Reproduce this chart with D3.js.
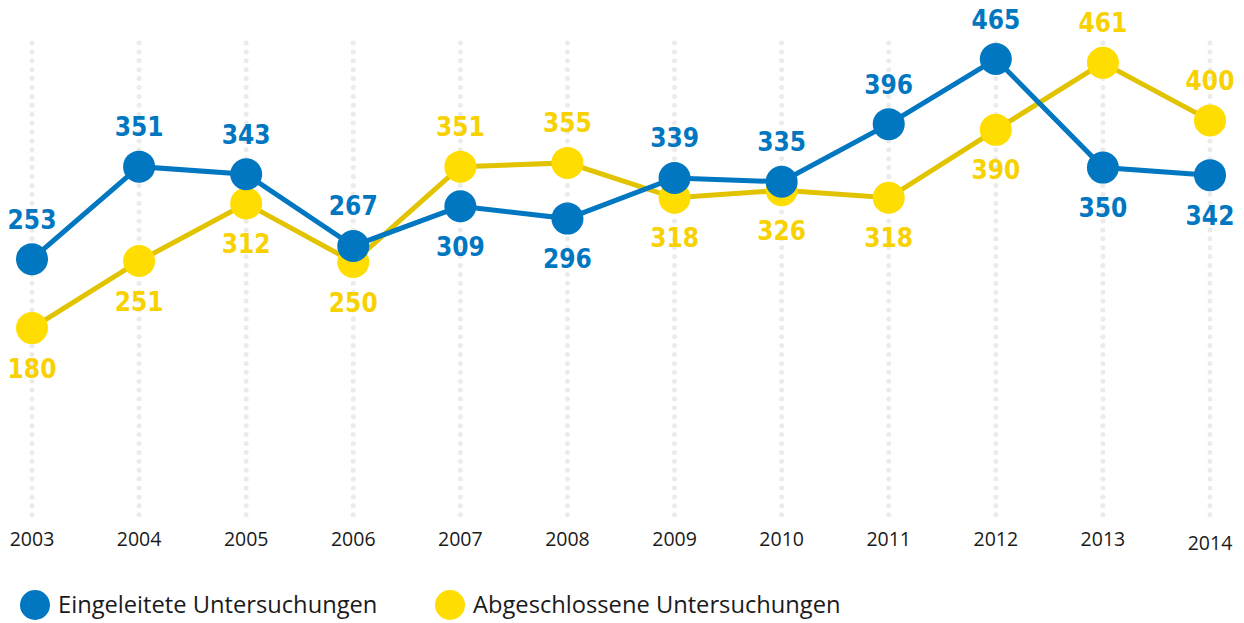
<!DOCTYPE html>
<html>
<head>
<meta charset="utf-8">
<script src="https://cdn.jsdelivr.net/npm/d3@7"></script>
<style>
    body { margin: 0; background: #fff; }
    svg { display: block; }
    .val { font-family: "DejaVu Sans Condensed", "DejaVu Sans", sans-serif; font-weight: bold; font-size: 26px; }
    .year { font-family: "Open Sans", sans-serif; font-size: 19.5px; fill: #1a1a1a; }
    .leg { font-family: "Open Sans", sans-serif; font-size: 23.7px; fill: #1a1a1a; }
</style>
</head>
<body>
<script>
// Eingeleitete vs. abgeschlossene Untersuchungen 2003-2014

const years = ["2003", "2004", "2005", "2006", "2007", "2008", "2009", "2010", "2011", "2012", "2013", "2014"]
const eingeleitet = [253, 351, 343, 267, 309, 296, 339, 335, 396, 465, 350, 342]
const abgeschlossen = [180, 251, 312, 250, 351, 355, 318, 326, 318, 390, 461, 400]
// where the number label sits: 1 = above the dot, -1 = below
const eingeleitetPos = [1, 1, 1, 1, -1, -1, 1, 1, 1, 1, -1, -1]
const abgeschlossenPos = [-1, -1, -1, -1, 1, 1, -1, -1, -1, -1, 1, 1]

const width = 1244,
    height = 623

const blue = "#0077c0",
    yellow = "#ffdd00",
    yellowLine = "#e2c300",
    yellowText = "#f7d200"

const svg = d3.select("body").append("svg")
    .attr("width", width)
    .attr("height", height)

const x = d3.scalePoint()
    .domain(years)
    .range([32, 1210])

const y = d3.scaleLinear()
    .domain([0, 500])
    .range([498, 26])

// dotted grid lines
svg.append("g")
    .selectAll("line")
    .data(years)
    .join("line")
    .attr("x1", (d) => x(d))
    .attr("x2", (d) => x(d))
    .attr("y1", 43)
    .attr("y2", 516)
    .attr("stroke", "#ebebeb")
    .attr("stroke-width", 5)
    .attr("stroke-linecap", "round")
    .attr("stroke-dasharray", "0 8.9")

svg.append("g")
    .selectAll("text")
    .data(years)
    .join("text")
    .attr("class", "year")
    .attr("x", (d) => x(d))
    .attr("y", (d) => d == "2014" ? 550 : 546)
    .attr("text-anchor", "middle")
    .text((d) => d)

const line = d3.line()
    .x((d) => x(d.year))
    .y((d) => y(d.value))

function drawSeries(values, pos, lineColor, dotColor, textColor) {
    const data = values.map((v, i) => ({ year: years[i], value: v, pos: pos[i] }))
    const g = svg.append("g")
    g.append("path")
        .datum(data)
        .attr("d", line)
        .attr("fill", "none")
        .attr("stroke", lineColor)
        .attr("stroke-width", 5)
    g.selectAll("circle")
        .data(data)
        .join("circle")
        .attr("cx", (d) => x(d.year))
        .attr("cy", (d) => y(d.value))
        .attr("r", 16)
        .attr("fill", dotColor)
    g.selectAll("text")
        .data(data)
        .join("text")
        .attr("class", "val")
        .attr("x", (d) => x(d.year))
        .attr("y", (d) => y(d.value) - d.pos * 40 + 9.5)
        .attr("text-anchor", "middle")
        .attr("fill", textColor)
        .text((d) => d.value)
}

drawSeries(abgeschlossen, abgeschlossenPos, yellowLine, yellow, yellowText)
drawSeries(eingeleitet, eingeleitetPos, blue, blue, blue)

// legend
const legendItems = [
    { label: "Eingeleitete Untersuchungen", color: blue, x: 35 },
    { label: "Abgeschlossene Untersuchungen", color: yellow, x: 450 }
]
const legend = svg.append("g")
    .selectAll("g")
    .data(legendItems)
    .join("g")
    .attr("transform", (d) => `translate(${d.x},605)`)
legend.append("circle")
    .attr("r", 15)
    .attr("fill", (d) => d.color)
legend.append("text")
    .attr("class", "leg")
    .attr("x", 23)
    .attr("y", 8)
    .text((d) => d.label)
</script>
</body>
</html>
